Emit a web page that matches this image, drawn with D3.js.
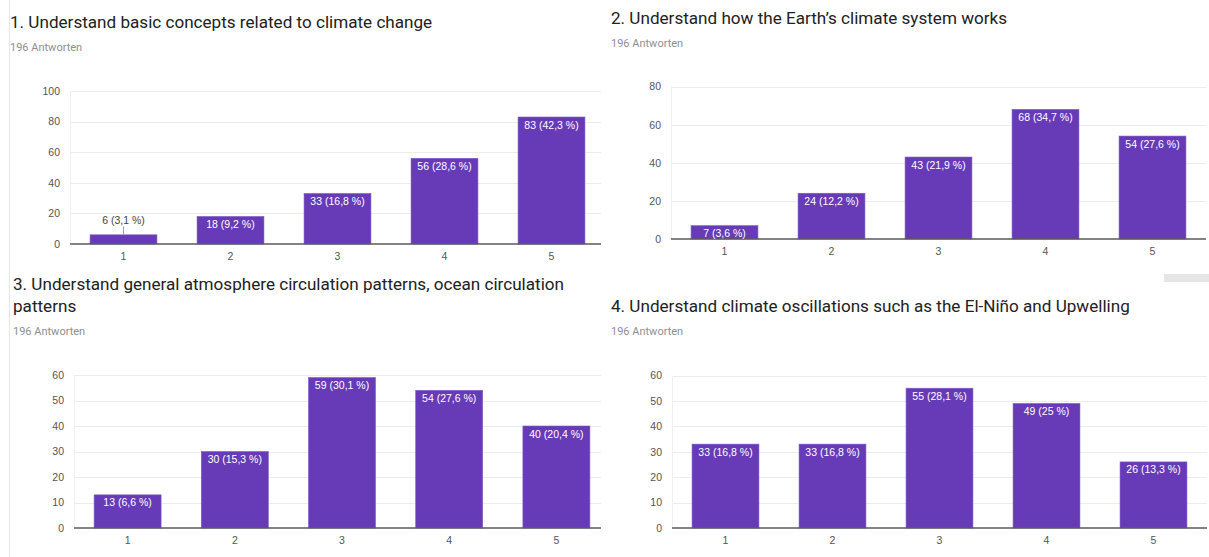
<!DOCTYPE html>
<html>
<head>
<meta charset="utf-8">
<script src="https://cdn.jsdelivr.net/npm/d3@7"></script>
<style>
  html, body { margin: 0; padding: 0; background: #fff; }
  svg { display: block; }
</style>
</head>
<body>
<svg id="chart" width="1209" height="557"></svg>
<script>
// ---- survey data -------------------------------------------------------
const categories = ["1", "2", "3", "4", "5"];
const responseNote = "196 Antworten";

const titleQ1 = ["1. Understand basic concepts related to climate change"];
const titleQ2 = ["2. Understand how the Earth\u2019s climate system works"];
const titleQ3 = ["3. Understand general atmosphere circulation patterns, ocean circulation", "patterns"];
const titleQ4 = ["4. Understand climate oscillations such as the El-Ni\u00f1o and Upwelling"];

const countsQ1 = [6, 18, 33, 56, 83];
const countsQ2 = [7, 24, 43, 68, 54];
const countsQ3 = [13, 30, 59, 54, 40];
const countsQ4 = [33, 33, 55, 49, 26];

const percentQ1 = ["3,1", "9,2", "16,8", "28,6", "42,3"];
const percentQ2 = ["3,6", "12,2", "21,9", "34,7", "27,6"];
const percentQ3 = ["6,6", "15,3", "30,1", "27,6", "20,4"];
const percentQ4 = ["16,8", "16,8", "28,1", "25", "13,3"];

const ticksQ1 = [0, 20, 40, 60, 80, 100];
const ticksQ2 = [0, 20, 40, 60, 80];
const ticksQ3 = [0, 10, 20, 30, 40, 50, 60];
const ticksQ4 = [0, 10, 20, 30, 40, 50, 60];

// ---- layout of the four cards -----------------------------------------
const panels = [
  { title: titleQ1, counts: countsQ1, pct: percentQ1, ticks: ticksQ1,
    tx: 10, ty: [28], ny: 51, x0: 70, x1: 605, clipX: 601, top: 91, base: 244 },
  { title: titleQ2, counts: countsQ2, pct: percentQ2, ticks: ticksQ2,
    tx: 611, ty: [24], ny: 47, x0: 671, x1: 1206, clipX: 1207, top: 86.5, base: 239 },
  { title: titleQ3, counts: countsQ3, pct: percentQ3, ticks: ticksQ3,
    tx: 13, ty: [290, 312], ny: 335, x0: 74, x1: 610, clipX: 601, top: 375, base: 528 },
  { title: titleQ4, counts: countsQ4, pct: percentQ4, ticks: ticksQ4,
    tx: 611, ty: [312], ny: 335, x0: 672, x1: 1207, clipX: 1207, top: 375.5, base: 528 }
];

const BAR = "#673ab7";
const svg = d3.select("#chart");

// faint card border on the left
svg.append("line")
  .attr("x1", 9.5).attr("x2", 9.5).attr("y1", 0).attr("y2", 557)
  .attr("stroke", "#e6e6e6").attr("stroke-width", 1);

// small scroll indicator under the second chart
svg.append("rect")
  .attr("x", 1164).attr("y", 274).attr("width", 45).attr("height", 8)
  .attr("fill", "#e6e6e6");

panels.forEach((p, i) => {
  const g = svg.append("g").attr("class", "panel-" + (i + 1));

  // title + response count
  p.title.forEach((line, k) => {
    g.append("text")
      .attr("x", p.tx).attr("y", p.ty[k])
      .attr("font-family", "Roboto, 'Noto Sans', sans-serif")
      .attr("font-size", 17.1).attr("fill", "#212121")
      .text(line);
  });
  g.append("text")
    .attr("x", p.tx).attr("y", p.ny)
    .attr("font-family", "Roboto, 'Noto Sans', sans-serif")
    .attr("font-size", 11).attr("fill", "#8f8f8f")
    .text(responseNote);

  const x = d3.scaleBand().domain(categories).range([p.x0, p.x1])
    .paddingInner(0.375).paddingOuter(0.1875);
  const y = d3.scaleLinear().domain([0, d3.max(p.ticks)]).range([p.base, p.top]);

  const clipId = "clip" + i;
  svg.append("clipPath").attr("id", clipId)
    .append("rect").attr("x", p.x0 - 1).attr("y", p.top - 20)
    .attr("width", p.clipX - p.x0 + 1).attr("height", p.base - p.top + 40);

  const plot = g.append("g").attr("clip-path", `url(#${clipId})`);

  // horizontal gridlines
  plot.selectAll("line.grid").data(p.ticks.filter(t => t > 0)).join("line")
    .attr("class", "grid")
    .attr("x1", p.x0).attr("x2", p.x1)
    .attr("y1", d => Math.round(y(d)) + 0.5).attr("y2", d => Math.round(y(d)) + 0.5)
    .attr("stroke", "#ececec").attr("stroke-width", 1);

  // faint left edge of the plot area
  plot.append("line")
    .attr("x1", p.x0 + 0.5).attr("x2", p.x0 + 0.5)
    .attr("y1", y(d3.max(p.ticks))).attr("y2", p.base)
    .attr("stroke", "#efefef");

  // bars
  const data = categories.map((c, j) => ({ c, v: p.counts[j], pct: p.pct[j] }));
  plot.selectAll("rect.bar").data(data).join("rect")
    .attr("class", "bar")
    .attr("x", d => x(d.c)).attr("width", x.bandwidth())
    .attr("y", d => y(d.v)).attr("height", d => p.base - y(d.v))
    .attr("fill", BAR)
    .attr("stroke", "#7e5cc4").attr("stroke-width", 0.6);

  // baseline
  plot.append("line")
    .attr("x1", p.x0).attr("x2", p.x1)
    .attr("y1", p.base).attr("y2", p.base)
    .attr("stroke", "#5a5a5a").attr("stroke-width", 1.3);

  // value labels: inside the bar when it fits, otherwise above with a leader
  data.forEach(d => {
    const cx = x(d.c) + x.bandwidth() / 2;
    const topY = y(d.v);
    const label = `${d.v} (${d.pct} %)`;
    if (p.base - topY >= 12) {
      plot.append("text")
        .attr("x", cx).attr("y", topY + 11.5)
        .attr("text-anchor", "middle")
        .attr("font-family", "Arial, 'Liberation Sans', sans-serif")
        .attr("font-size", 10.5).attr("fill", "#ffffff")
        .text(label);
    } else {
      plot.append("line")
        .attr("x1", cx).attr("x2", cx)
        .attr("y1", topY).attr("y2", topY - 8.5)
        .attr("stroke", "#9e9e9e");
      plot.append("text")
        .attr("x", cx).attr("y", topY - 10.5)
        .attr("text-anchor", "middle")
        .attr("font-family", "Arial, 'Liberation Sans', sans-serif")
        .attr("font-size", 10.5).attr("fill", "#444")
        .text(label);
    }
  });

  // y axis tick labels
  const yAxis = d3.axisLeft(y).tickValues(p.ticks).tickSize(0).tickPadding(10);
  const ya = g.append("g").attr("transform", `translate(${p.x0},0)`).call(yAxis);
  ya.select(".domain").remove();
  ya.selectAll("text")
    .attr("font-family", "Arial, 'Liberation Sans', sans-serif")
    .attr("font-size", 10.5).attr("fill", "#555");

  // x axis category labels
  const xAxis = d3.axisBottom(x).tickSize(0).tickPadding(9);
  const xa = g.append("g").attr("transform", `translate(0,${p.base})`).call(xAxis);
  xa.select(".domain").remove();
  xa.selectAll("text")
    .attr("font-family", "Arial, 'Liberation Sans', sans-serif")
    .attr("font-size", 10.5).attr("fill", "#555");
});
</script>
</body>
</html>
